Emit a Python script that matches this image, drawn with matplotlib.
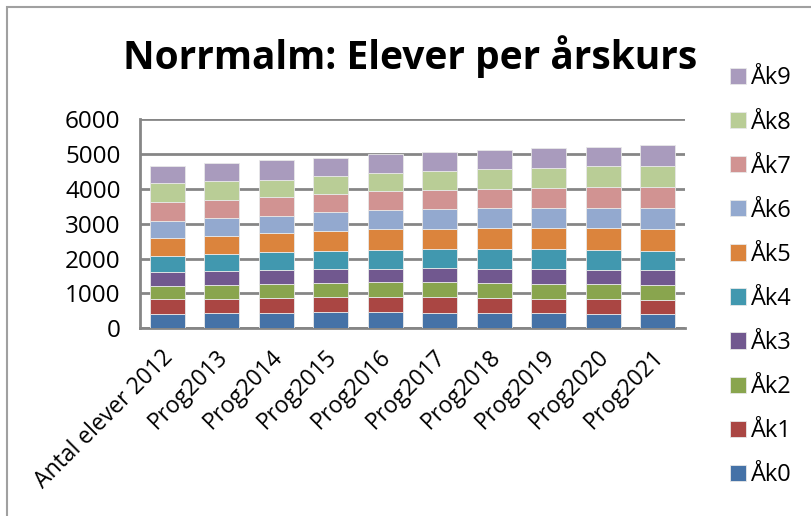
import matplotlib
matplotlib.use("Agg")
import matplotlib.pyplot as plt
import numpy as np
from matplotlib.patches import Rectangle

# categories and series
categories = ["Antal elever 2012", "Prog2013", "Prog2014", "Prog2015", "Prog2016",
              "Prog2017", "Prog2018", "Prog2019", "Prog2020", "Prog2021"]
series_names = ["Åk0", "Åk1", "Åk2", "Åk3", "Åk4", "Åk5", "Åk6", "Åk7", "Åk8", "Åk9"]

ak0 = [410, 430, 430, 459, 459, 430, 430, 430, 410, 410]
ak1 = [422, 402, 431, 431, 431, 460, 439, 411, 422, 411]
ak2 = [390, 410, 410, 410, 430, 430, 431, 430, 431, 430]
ak3 = [385, 394, 393, 393, 390, 401, 410, 422, 410, 413]
ak4 = [476, 505, 517, 525, 545, 557, 574, 582, 582, 563]
ak5 = [500, 499, 545, 574, 586, 563, 585, 603, 614, 631]
ak6 = [505, 516, 496, 537, 545, 574, 574, 565, 592, 585]
ak7 = [545, 525, 537, 525, 562, 553, 563, 583, 602, 612]
ak8 = [528, 537, 496, 525, 517, 554, 556, 582, 585, 603]
ak9 = [505, 534, 566, 516, 536, 528, 554, 565, 563, 593]

series = [ak0, ak1, ak2, ak3, ak4, ak5, ak6, ak7, ak8, ak9]
colors = ["#4572A7", "#AA4643", "#89A54E", "#71588F", "#4198AF",
          "#DB843D", "#93A9CF", "#D19392", "#B9CD96", "#A99BBD"]

font = "Open Sans"
plt.rcParams["font.family"] = [font, "DejaVu Sans"]

fig = plt.figure(figsize=(8.12, 5.16), dpi=100)
ax = fig.add_axes([140/812, 1-328.3/516, 545/812, (328.3-119)/516])

x = np.arange(len(categories))
bottom = np.zeros(len(categories))
handles = []
for name, vals, c in zip(series_names, series, colors):
    b = ax.bar(x, vals, width=0.64, bottom=bottom, color=c, edgecolor="#e8e8e8",
               linewidth=0.6, label=name, zorder=3)
    handles.append(b)
    bottom += np.array(vals)

ax.set_xlim(-0.5, len(categories)-0.5)
ax.set_ylim(0, 6000)
ax.set_yticks(range(0, 6001, 1000))
ax.grid(axis="y", color="#868686", linewidth=2, zorder=0)
for s in ["top", "right"]:
    ax.spines[s].set_visible(False)
for s in ["left", "bottom"]:
    ax.spines[s].set_color("#868686")
    ax.spines[s].set_linewidth(2)
ax.tick_params(axis="y", length=0, pad=14, labelsize=17.5)
ax.tick_params(axis="x", length=0)
ax.set_xticks(x)
ax.set_xticklabels(categories, rotation=45, ha="right", va="top",
                   rotation_mode="anchor", fontsize=16.5)
for lbl in ax.get_xticklabels():
    lbl.set_transform(lbl.get_transform() + matplotlib.transforms.ScaledTranslation(-6/100, -12/100, fig.dpi_scale_trans))

fig.text(410/812, 1-57/516, "Norrmalm: Elever per årskurs", ha="center", va="center",
         fontsize=28, fontweight="bold")

leg = fig.legend(handles[::-1], series_names[::-1], loc="upper left",
                 bbox_to_anchor=(721/812, 1-57/516), frameon=False, fontsize=17,
                 handlelength=0.68, handleheight=0.68, handletextpad=0.2,
                 labelspacing=0.85, borderaxespad=0)

fig.patches.append(Rectangle((7/812, -0.05), 1.2, 1-7/516+0.05, transform=fig.transFigure,
                             fill=False, edgecolor="#a0a0a0", linewidth=1.5))

fig.savefig("out.png", dpi=100)
